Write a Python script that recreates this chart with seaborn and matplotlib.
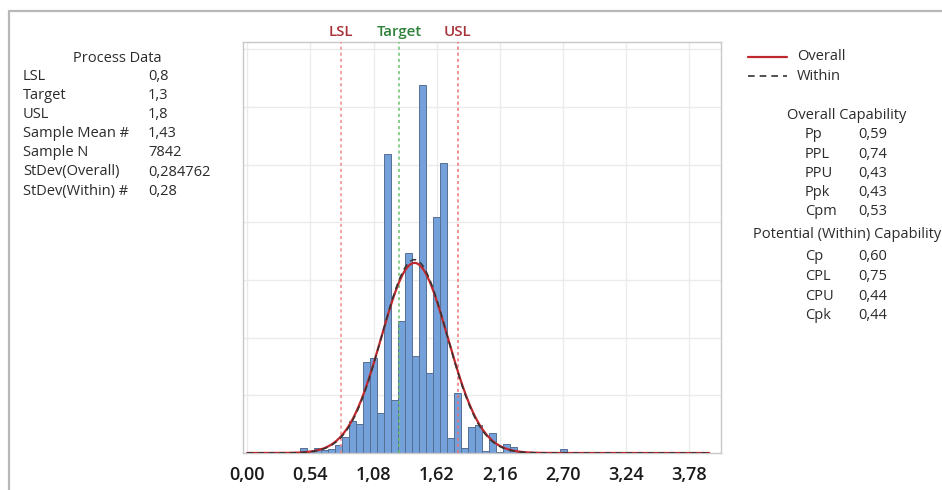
import numpy as np
import pandas as pd
import matplotlib
matplotlib.use("Agg")
import matplotlib.pyplot as plt
from matplotlib.lines import Line2D
import seaborn as sns

# ---- process capability data ----
lsl, target, usl = 0.8, 1.3, 1.8
sample_mean = 1.43
sample_n = 7842
sd_overall = 0.284762
sd_within = 0.28

# histogram: bin centres and frequencies (bin width 0.06)
bin_centers = [0.06, 0.24, 0.30, 0.42, 0.48, 0.54, 0.60, 0.66, 0.72, 0.78,
               0.84, 0.90, 0.96, 1.02, 1.08, 1.14, 1.20, 1.26, 1.32, 1.38,
               1.44, 1.50, 1.56, 1.62, 1.68, 1.74, 1.80, 1.86, 1.92, 1.98,
               2.04, 2.10, 2.16, 2.22, 2.28, 2.34, 2.40, 2.46, 2.70, 2.88,
               3.12, 3.18, 3.42, 3.84]
bin_counts = [1, 1, 1, 3, 17, 7, 17, 10, 14, 28,
              55, 110, 100, 314, 328, 138, 1036, 183, 456, 694,
              335, 1276, 276, 818, 1005, 52, 207, 17, 90, 97,
              7, 69, 3, 31, 21, 3, 2, 1, 14, 1,
              1, 1, 1, 1]
bin_width = 0.06

tick_values = [0.00, 0.54, 1.08, 1.62, 2.16, 2.70, 3.24, 3.78]
tick_labels = ["0,00", "0,54", "1,08", "1,62", "2,16", "2,70", "3,24", "3,78"]

process_labels = ["LSL", "Target", "USL", "Sample Mean #", "Sample N",
                  "StDev(Overall)", "StDev(Within) #"]
process_values = ["0,8", "1,3", "1,8", "1,43", "7842", "0,284762", "0,28"]

overall_labels = ["Pp", "PPL", "PPU", "Ppk", "Cpm"]
overall_values = ["0,59", "0,74", "0,43", "0,43", "0,53"]
within_labels = ["Cp", "CPL", "CPU", "Cpk"]
within_values = ["0,60", "0,75", "0,44", "0,44"]

# ---- styling ----
sns.set_style("white")
FONT = ["Open Sans", "DejaVu Sans"]
plt.rcParams["font.family"] = FONT

W, H = 942, 490
fig = plt.figure(figsize=(W / 100, H / 100), dpi=100)
ax = fig.add_axes([243 / W, 1 - 453 / H, (721 - 243) / W, (453 - 42) / H])


def px(x, y):
    return x / W, 1 - y / H


TEXT = "#2b2b2b"
BAR = "#74a1d9"
BAR_EDGE = "#566f94"
SPEC_RED = "#a8323a"
SPEC_GREEN = "#2f823a"

# grid
ax.set_axisbelow(True)
for v in tick_values:
    ax.axvline(v, color="#ebebeb", lw=1.0, zorder=0)
for v in range(200, 1401, 200):
    ax.axhline(v, color="#ebebeb", lw=1.0, zorder=0)

hist_df = pd.DataFrame({"value": bin_centers, "count": bin_counts})
edges = [round(0.03 + k * bin_width, 2) for k in range(66)]
sns.histplot(data=hist_df, x="value", weights="count", bins=edges, ax=ax,
             color=BAR, edgecolor=BAR_EDGE, linewidth=0.7, alpha=1.0,
             zorder=2)

# fitted normal curves
xs = np.linspace(0.0, 3.95, 600)


def normal_freq(x, mu, sd):
    return sample_n * bin_width * np.exp(-0.5 * ((x - mu) / sd) ** 2) / (sd * np.sqrt(2 * np.pi))


curve_df = pd.DataFrame({"x": xs,
                         "overall": normal_freq(xs, sample_mean, sd_overall),
                         "within": normal_freq(xs, sample_mean, sd_within)})
sns.lineplot(data=curve_df, x="x", y="overall", ax=ax,
             color="#c0282d", linewidth=1.6, zorder=4)
sns.lineplot(data=curve_df, x="x", y="within", ax=ax,
             color="#333333", linewidth=1.1, linestyle=(0, (4, 3)), zorder=5)

# specification limits
for val, name, lc, tc in [(lsl, "LSL", "#ee8a8a", SPEC_RED),
                          (target, "Target", "#6cc070", SPEC_GREEN),
                          (usl, "USL", "#ee7070", SPEC_RED)]:
    ax.axvline(val, color=lc, lw=1.1, linestyle=(0, (2, 2)), zorder=3)
    ax.annotate(name, xy=(val, 1.0), xycoords=("data", "axes fraction"),
                xytext=(0, 7.5), textcoords="offset points", ha="center",
                va="center", color=tc, fontsize=10.8, fontweight="semibold")

ax.set_xlim(-0.036, 3.987)
ax.set_ylim(0, 1425)
ax.set_xticks(tick_values)
ax.set_xticklabels(tick_labels)
ax.set_xticks([v + 0.27 for v in tick_values], minor=True)
ax.set_yticks([])
ax.set_xlabel("")
ax.set_ylabel("")
ax.tick_params(axis="x", which="major", length=5, width=0.8, color="#b0b0b0",
               labelsize=13, labelcolor="#1a1a1a", pad=4)
ax.tick_params(axis="x", which="minor", length=3, width=0.8, color="#b0b0b0")
for lab in ax.get_xticklabels():
    lab.set_fontweight("semibold")
for s in ax.spines.values():
    s.set_color("#c8c8c8")
    s.set_linewidth(1.0)

# outer frame
fig.add_artist(Line2D([9 / W, 1.0], [1 - 11 / H] * 2, color="#b8b8b8", lw=1.6))
fig.add_artist(Line2D([9 / W] * 2, [0.0, 1 - 11 / H], color="#b8b8b8", lw=1.6))

FS = 10.5
# process data block
fig.text(*px(117, 58), "Process Data", ha="center", va="center",
         fontsize=FS, color=TEXT)
for i, (lab, val) in enumerate(zip(process_labels, process_values)):
    y = 76 + i * 19.2
    fig.text(*px(23, y), lab, ha="left", va="center", fontsize=FS, color=TEXT)
    fig.text(*px(148, y), val, ha="left", va="center", fontsize=FS, color=TEXT)

# legend
fig.add_artist(Line2D([748 / W, 787 / W], [1 - 57 / H] * 2, color="#c0282d", lw=1.6))
fig.add_artist(Line2D([748 / W, 787 / W], [1 - 76 / H] * 2, color="#333333",
                      lw=1.2, linestyle=(0, (4, 3))))
fig.text(*px(797, 57), "Overall", ha="left", va="center", fontsize=FS, color=TEXT)
fig.text(*px(797, 76), "Within", ha="left", va="center", fontsize=FS, color=TEXT)

# capability blocks
fig.text(*px(847, 115), "Overall Capability", ha="center", va="center",
         fontsize=FS, color=TEXT)
for i, (lab, val) in enumerate(zip(overall_labels, overall_values)):
    y = 135 + i * 19.2
    fig.text(*px(805, y), lab, ha="left", va="center", fontsize=FS, color=TEXT)
    fig.text(*px(858, y), val, ha="left", va="center", fontsize=FS, color=TEXT)

fig.text(*px(847, 234), "Potential (Within) Capability", ha="center",
         va="center", fontsize=FS, color=TEXT)
for i, (lab, val) in enumerate(zip(within_labels, within_values)):
    y = 257 + i * 19.5
    fig.text(*px(805, y), lab, ha="left", va="center", fontsize=FS, color=TEXT)
    fig.text(*px(858, y), val, ha="left", va="center", fontsize=FS, color=TEXT)

fig.savefig("out.png", dpi=100, facecolor="white")
